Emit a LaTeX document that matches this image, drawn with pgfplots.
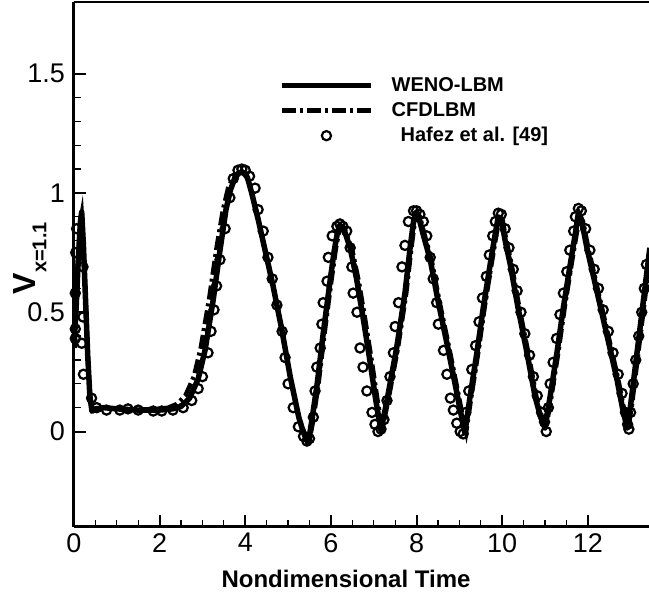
\documentclass[border=0pt]{standalone}
\usepackage{fontspec}
\setmainfont{Liberation Sans}
\usepackage{pgfplots}
\pgfplotsset{compat=1.18}
\begin{document}
\begin{tikzpicture}
\begin{axis}[
  name=ax,
  scale only axis, width=575pt, height=525pt,
  xmin=0, xmax=13.43, ymin=-0.4, ymax=1.8,
  axis x line*=bottom, axis y line*=left,
  axis line style={line width=3pt, -},
  xtick={0,2,...,12}, ytick={0,0.5,1,1.5},
  minor x tick num=3, minor y tick num=4,
  tick align=inside,
  major tick length=12pt, minor tick length=7pt,
  every major tick/.append style={line width=2pt, black},
  every minor tick/.append style={line width=1.2pt, black},
  tick label style={font=\fontsize{27}{30}\selectfont},
  yticklabel style={inner sep=0pt, xshift=-9pt},
  xticklabel style={inner sep=0pt, yshift=-6pt},
  /pgf/number format/assume math mode=true,
  xlabel={\textbf{Nondimensional Time}},
  xlabel style={font=\fontsize{24}{28}\selectfont, at={(axis description cs:0.473,-0.116)}, anchor=base},
  ylabel={{\fontsize{32}{34}\selectfont\bfseries V}\raisebox{-11pt}{\fontsize{20}{22}\selectfont\bfseries x=1.1}},
  ylabel style={at={(axis description cs:-0.0768,0.512)}, anchor=center},
  legend style={draw=none, fill=none, inner sep=0pt,
    at={(rel axis cs:0.3565,0.861)}, anchor=north west,
    font=\fontsize{20}{24}\selectfont\bfseries,
    nodes={inner sep=1pt, text height=15pt, text depth=4pt},
    row sep=4pt,
    /tikz/every odd column/.append style={column sep=17pt}},
  legend cell align=left,
  legend image code/.code={\draw[mark repeat=2,mark phase=2,#1] plot coordinates {(0pt,0pt) (44.5pt,0pt) (89pt,0pt)};},
]
\addplot[black, line width=5.5pt, line join=round] coordinates {
(0,0.35) (0.05,0.52) (0.1,0.72) (0.15,0.88) (0.18,0.92) (0.22,0.78) (0.27,0.55) (0.32,0.32) (0.37,0.15) (0.42,0.085)
(0.5,0.095) (0.7,0.1) (1.0,0.095) (1.5,0.09) (2.0,0.09) (2.3,0.095) (2.5,0.105) (2.7,0.14) (2.9,0.22) (3.06,0.34)
(3.25,0.55) (3.41,0.76) (3.55,0.93) (3.65,1.01) (3.75,1.06) (3.85,1.083) (3.95,1.087) (4.05,1.065) (4.15,1.0) (4.3,0.89)
(4.45,0.77) (4.65,0.61) (4.85,0.43) (5.05,0.23) (5.25,0.06) (5.35,0.0) (5.47,-0.05) (5.55,0.04) (5.68,0.2) (5.82,0.41)
(5.98,0.63) (6.08,0.76) (6.15,0.83) (6.21,0.865) (6.3,0.85) (6.45,0.77) (6.6,0.64) (6.75,0.48) (6.9,0.31) (7.05,0.13)
(7.17,0.005) (7.31,0.13) (7.54,0.355) (7.73,0.58) (7.85,0.77) (7.93,0.88) (7.99,0.92) (8.05,0.9) (8.15,0.83) (8.32,0.72)
(8.5,0.55) (8.71,0.37) (8.9,0.2) (9.02,0.09) (9.13,-0.005) (9.25,0.146) (9.41,0.33) (9.56,0.52) (9.72,0.7) (9.84,0.83)
(9.91,0.9) (9.98,0.89) (10.07,0.8) (10.19,0.7) (10.37,0.52) (10.58,0.33) (10.77,0.146) (10.9,0.06) (11.0,0.015) (11.12,0.146)
(11.28,0.33) (11.43,0.52) (11.59,0.7) (11.71,0.83) (11.78,0.915) (11.86,0.88) (11.98,0.77) (12.21,0.59) (12.44,0.41) (12.68,0.22)
(12.82,0.09) (12.92,0.015) (13.0,0.11) (13.15,0.33) (13.3,0.55) (13.45,0.77)
};
\addlegendentry{WENO-LBM}
\addplot[black, line width=4.5pt, dash pattern=on 14pt off 4pt on 3pt off 4pt] coordinates {
(0,0.36) (0.05,0.53) (0.1,0.73) (0.15,0.88) (0.18,0.91) (0.22,0.78) (0.27,0.56) (0.32,0.33) (0.37,0.16) (0.42,0.09)
(0.5,0.095) (0.7,0.1) (1.0,0.095) (1.5,0.092) (2.0,0.095) (2.2,0.1) (2.4,0.115) (2.6,0.15) (2.8,0.23) (2.96,0.35)
(3.16,0.56) (3.33,0.77) (3.48,0.93) (3.6,1.02) (3.72,1.065) (3.84,1.085) (3.94,1.085) (4.05,1.065) (4.15,1.0) (4.3,0.89)
(4.45,0.77) (4.65,0.61) (4.85,0.43) (5.05,0.23) (5.25,0.06) (5.37,0.0) (5.49,-0.045) (5.58,0.04) (5.71,0.2) (5.85,0.41)
(6.01,0.63) (6.11,0.76) (6.18,0.83) (6.24,0.855) (6.34,0.84) (6.5,0.76) (6.65,0.63) (6.8,0.47) (6.95,0.3) (7.09,0.13)
(7.2,0.01) (7.34,0.13) (7.57,0.355) (7.76,0.58) (7.88,0.77) (7.96,0.88) (8.02,0.915) (8.08,0.9) (8.18,0.83) (8.35,0.72)
(8.53,0.55) (8.74,0.37) (8.93,0.2) (9.05,0.09) (9.16,0.0) (9.28,0.146) (9.44,0.33) (9.59,0.52) (9.75,0.7) (9.87,0.83)
(9.94,0.895) (10.01,0.885) (10.1,0.8) (10.22,0.7) (10.4,0.52) (10.61,0.33) (10.8,0.146) (10.93,0.06) (11.03,0.02) (11.15,0.146)
(11.31,0.33) (11.46,0.52) (11.62,0.7) (11.74,0.83) (11.81,0.91) (11.89,0.88) (12.01,0.77) (12.24,0.59) (12.47,0.41) (12.71,0.22)
(12.85,0.09) (12.95,0.02) (13.03,0.11) (13.18,0.33) (13.33,0.55) (13.45,0.73)
};
\addlegendentry{CFDLBM}
\addplot[only marks, mark=o, mark size=4.6pt, mark options={line width=2.2pt, black}] coordinates {
(0.03,0.39) (0.03,0.43) (0.03,0.58) (0.04,0.75) (0.06,0.85) (0.21,0.69) (0.21,0.48) (0.18,0.37) (0.22,0.24) (0.41,0.14)
(0.53,0.10) (0.76,0.09) (1.07,0.09) (1.26,0.095) (1.5,0.09) (1.85,0.086) (2.05,0.086) (2.31,0.09) (2.55,0.10) (2.75,0.13)
(2.9,0.18) (3.0,0.23) (3.13,0.33) (3.2,0.42) (3.27,0.51) (3.33,0.61) (3.41,0.72) (3.53,0.85) (3.64,0.98) (3.72,1.06)
(3.83,1.095) (3.92,1.1) (4.0,1.095) (4.1,1.07) (4.23,1.02) (4.3,0.93) (4.42,0.84) (4.53,0.73) (4.63,0.64) (4.74,0.53)
(4.86,0.42) (4.93,0.31) (5.0,0.2) (5.12,0.1) (5.24,0.02) (5.36,-0.02) (5.44,-0.04) (5.5,-0.03) (5.59,0.06) (5.63,0.17)
(5.67,0.27) (5.75,0.35) (5.79,0.45) (5.82,0.54) (5.91,0.63) (5.94,0.73) (6.03,0.82) (6.14,0.86) (6.21,0.87) (6.28,0.86)
(6.37,0.84) (6.45,0.77) (6.49,0.69) (6.52,0.58) (6.61,0.5) (6.68,0.35) (6.75,0.27) (6.84,0.17) (6.96,0.08) (7.03,0.03)
(7.1,0.0) (7.17,0.01) (7.24,0.05) (7.31,0.13) (7.38,0.23) (7.46,0.33) (7.5,0.44) (7.58,0.54) (7.66,0.69) (7.73,0.78)
(7.81,0.88) (7.93,0.925) (8.0,0.925) (8.08,0.91) (8.16,0.88) (8.24,0.82) (8.32,0.73) (8.39,0.64) (8.47,0.54) (8.51,0.45)
(8.63,0.34) (8.71,0.24) (8.79,0.14) (8.86,0.09) (8.94,0.035) (9.02,0.0) (9.09,-0.01) (9.15,0.08) (9.22,0.17) (9.29,0.26)
(9.38,0.36) (9.46,0.46) (9.54,0.56) (9.63,0.65) (9.7,0.74) (9.78,0.82) (9.84,0.88) (9.91,0.915) (9.98,0.91) (10.07,0.85)
(10.16,0.77) (10.26,0.68) (10.35,0.59) (10.44,0.5) (10.53,0.41) (10.64,0.32) (10.73,0.23) (10.82,0.15) (10.92,0.08) (10.99,0.04)
(11.03,0.0) (11.08,0.1) (11.12,0.2) (11.19,0.29) (11.27,0.39) (11.35,0.49) (11.43,0.58) (11.51,0.67) (11.58,0.76) (11.67,0.84)
(11.71,0.9) (11.78,0.935) (11.85,0.925) (11.95,0.85) (12.05,0.76) (12.15,0.68) (12.25,0.6) (12.36,0.51) (12.48,0.42) (12.59,0.33)
(12.71,0.24) (12.8,0.16) (12.88,0.08) (12.93,0.03) (12.96,0.01) (13.0,0.08) (13.06,0.2) (13.12,0.3) (13.19,0.4) (13.26,0.5)
(13.32,0.6) (13.37,0.7)
};
\addlegendentry{\hspace*{9pt}Hafez et al. [49]}
\draw[line width=3pt, line cap=rect] (rel axis cs:0,1) -- (rel axis cs:1,1);
\end{axis}
\pgfresetboundingbox
\path[use as bounding box] ([xshift=-74pt,yshift=-70pt]ax.south west) rectangle ([yshift=2pt]ax.north east);
\end{tikzpicture}
\end{document}
